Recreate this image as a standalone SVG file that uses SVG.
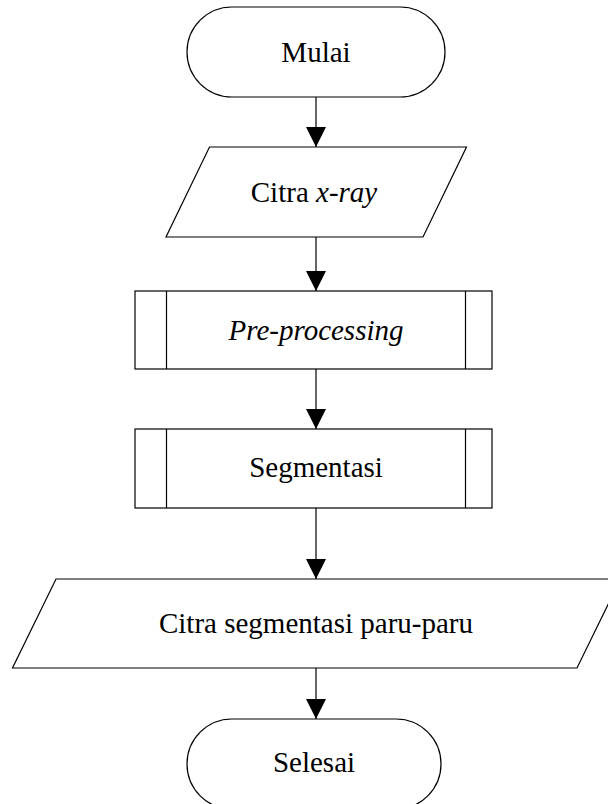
<svg xmlns="http://www.w3.org/2000/svg" width="608" height="804" viewBox="0 0 608 804">
  <style>
    .shape { fill: #ffffff; stroke: #000000; stroke-width: 1.2; }
    .label { font-family: "Liberation Serif", "Times New Roman", serif; font-size: 29px; fill: #000000; text-anchor: middle; }
    .flow { stroke: #000000; stroke-width: 1.2; fill: none; marker-end: url(#arrow); }
  </style>
  <defs>
    <marker id="arrow" markerUnits="userSpaceOnUse" markerWidth="20" markerHeight="20" viewBox="0 0 20 20" refX="20" refY="10" orient="auto">
      <path d="M0,0 L20,10 L0,20 Z" fill="#000000"/>
    </marker>
  </defs>
  <rect width="608" height="804" fill="#ffffff"/>

  <g id="connectors">
    <line class="flow" x1="316" y1="97" x2="316" y2="147"/>
    <line class="flow" x1="316" y1="237" x2="316" y2="291"/>
    <line class="flow" x1="316" y1="369" x2="316" y2="429"/>
    <line class="flow" x1="316" y1="508" x2="316" y2="579"/>
    <line class="flow" x1="316" y1="668" x2="316" y2="719"/>
  </g>

  <g id="start">
    <rect class="shape" x="187" y="7" width="258" height="90" rx="45" ry="45"/>
    <text class="label" x="316" y="62">Mulai</text>
  </g>

  <g id="input-xray">
    <polygon class="shape" points="209.5,147 466.5,147 423,237 166,237"/>
    <text class="label" x="314" y="202">Citra <tspan font-style="italic">x-ray</tspan></text>
  </g>

  <g id="preprocessing">
    <rect class="shape" x="135" y="291" width="357" height="78"/>
    <line class="shape" x1="166.5" y1="291" x2="166.5" y2="369"/>
    <line class="shape" x1="465.5" y1="291" x2="465.5" y2="369"/>
    <text class="label" x="316" y="340" font-style="italic">Pre-processing</text>
  </g>

  <g id="segmentasi">
    <rect class="shape" x="135" y="429" width="357" height="79"/>
    <line class="shape" x1="166.5" y1="429" x2="166.5" y2="508"/>
    <line class="shape" x1="465.5" y1="429" x2="465.5" y2="508"/>
    <text class="label" x="316" y="477">Segmentasi</text>
  </g>

  <g id="output-lung">
    <polygon class="shape" points="56,579 620.5,579 577,668 12.5,668"/>
    <text class="label" x="316" y="633">Citra segmentasi paru-paru</text>
  </g>

  <g id="end">
    <rect class="shape" x="187" y="719" width="254" height="90" rx="45" ry="45"/>
    <text class="label" x="314" y="772">Selesai</text>
  </g>
</svg>
